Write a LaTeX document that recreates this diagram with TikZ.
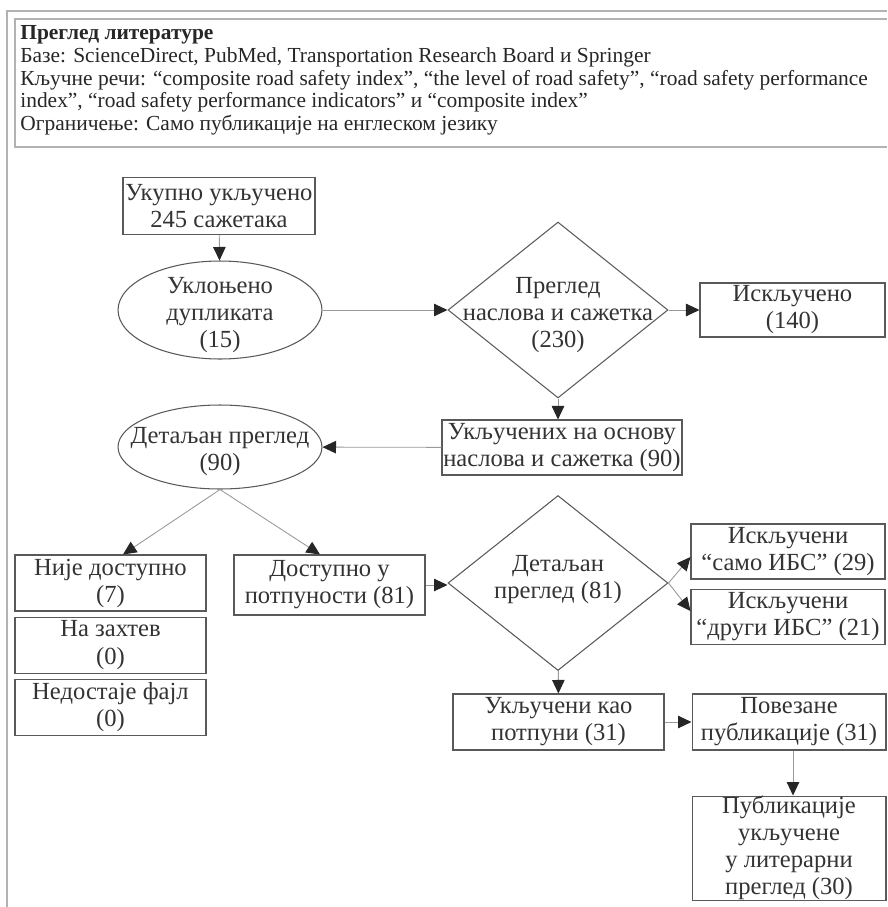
\documentclass[tikz,border=0pt]{standalone}
\usepackage{fontspec}
\setmainfont{Liberation Serif}
\usetikzlibrary{positioning, arrows.meta, shapes.geometric}

\newcommand{\flowfont}{\fontsize{14}{15.4}\selectfont}
\newcommand{\headfont}{\fontsize{12.2}{13}\selectfont}

\begin{document}
\begin{tikzpicture}[
    x=0.02cm, y=-0.02cm,
    box/.style={draw=black!65, line width=0.6pt, inner sep=0pt, align=center,
                font=\flowfont, text=black!80},
    oval/.style={draw=black!65, line width=0.6pt, ellipse, inner sep=0pt},
    decision/.style={draw=black!65, line width=0.6pt, diamond, inner sep=0pt},
    txt/.style={inner sep=0pt, align=center, font=\flowfont, text=black!80},
    frame/.style={draw=black!30, line width=0.6pt},
    arr/.style={-{Triangle[length=0.27cm, width=0.25cm, color=black!85]},
                draw=black!40, line width=0.5pt}
]
\useasboundingbox (0,0) rectangle (887,907);

\draw[frame] (7,907) -- (7,11) -- (887,11);
\draw[frame] (887,19) -- (15,19) -- (15,147) -- (887,147);
\node[anchor=north west, inner sep=0pt, align=left, font=\headfont, text=black!85] (header) at (20,25)
  {\textbf{Преглед литературе}\\
   Базе: ScienceDirect, PubMed, Transportation Research Board и Springer\\
   Кључне речи: “composite road safety index”, “the level of road safety”, “road safety performance\\
   index”, “road safety performance indicators” и “composite index”\\
   Ограничење: Само публикације на енглеском језику};

\node[box, minimum width=3.84cm, minimum height=1.14cm] (total) at (219,206) {Укупно укључено\\245 сажетака};
\node[oval, minimum width=4.08cm, minimum height=1.96cm] (dupl) at (220,310) {};
\node[txt] (dupltxt) at (220,315) {Уклоњено\\дупликата\\(15)};
\node[decision, minimum width=4.4cm, minimum height=3.52cm] (screen) at (558,310) {};
\node[txt] (screentxt) at (558,315) {Преглед\\наслова и сажетка\\(230)};
\node[box, minimum width=3.7cm, minimum height=1.08cm] (excl) at (792.5,310) {Искључено\\(140)};
\node[box, minimum width=4.8cm, minimum height=1.1cm] (titles) at (562,447.5) {Укључених на основу\\наслова и сажетка (90)};
\node[oval, minimum width=4.08cm, minimum height=1.68cm] (fullrev) at (220,447) {};
\node[txt] (fullrevtxt) at (220,452) {Детаљан преглед\\(90)};

\node[box, minimum width=3.82cm, minimum height=1.12cm] (notavail) at (110.5,583) {Није доступно\\(7)};
\node[box, minimum width=3.82cm, minimum height=1.12cm, below=0.1cm of notavail] (request) {На захтев\\(0)};
\node[box, minimum width=3.82cm, minimum height=1.12cm, below=0.1cm of request] (missing) {Недостаје фајл\\(0)};
\node[box, minimum width=3.82cm, minimum height=1.2cm] (avail) at (329.5,585) {Доступно у\\потпуности (81)};

\node[decision, minimum width=4.4cm, minimum height=3.5cm] (detail) at (558,583) {};
\node[txt] (detailtxt) at (558,580) {Детаљан\\преглед (81)};
\node[box, minimum width=3.88cm, minimum height=1.1cm] (exibs) at (788,551.5) {Искључени\\“само ИБС” (29)};
\node[box, minimum width=3.88cm, minimum height=1.1cm, below=0.18cm of exibs] (exother) {Искључени\\“други ИБС” (21)};

\node[box, minimum width=4.22cm, minimum height=1.12cm] (incl) at (558.5,722) {Укључени као\\потпуни (31)};
\node[box, minimum width=3.88cm, minimum height=1.12cm, right=0.54cm of incl] (linked) {Повезане\\публикације (31)};
\node[box, minimum width=3.88cm, minimum height=2.08cm, below=0.9cm of linked] (final) {Публикације\\укључене\\у литерарни\\преглед (30)};

\draw[arr] (total) -- (dupl);
\draw[arr] (dupl) -- (screen);
\draw[arr] (screen) -- (excl);
\draw[arr] (screen.south) -- (screen.south |- titles.north);
\draw[arr] (titles) -- (fullrev);
\draw[arr] (fullrev.south) -- ([xshift=0.25cm]notavail.north);
\draw[arr] (fullrev.south) -- ([xshift=-0.19cm]avail.north);
\draw[arr] (avail.east) -- (avail.east -| detail.west);
\draw[arr] (detail.east) -- ([yshift=-0.11cm]exibs.west);
\draw[arr] (detail.east) -- ([yshift=0.11cm]exother.west);
\draw[arr] (detail) -- (incl);
\draw[arr] (incl) -- (linked);
\draw[arr] ([xshift=0.08cm]linked.south) -- ([xshift=0.08cm]final.north);
\end{tikzpicture}
\end{document}
